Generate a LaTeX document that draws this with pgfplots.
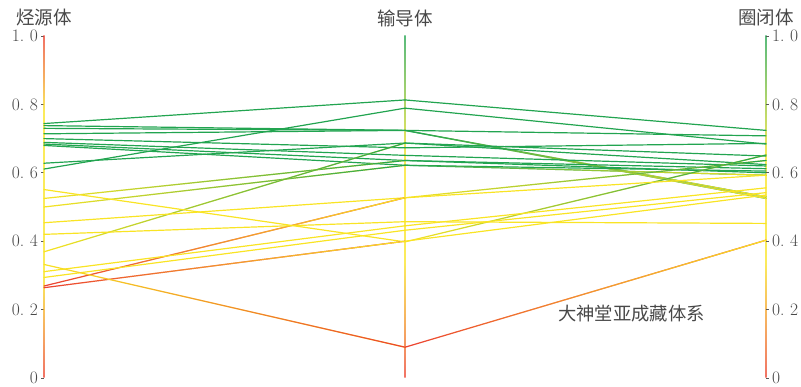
\documentclass[border=0pt]{standalone}
\usepackage{fontspec}
\usepackage{pgfplots}
\pgfplotsset{compat=1.18}
\usetikzlibrary{fadings}
\newfontfamily\cjk{Noto Sans CJK SC}

\definecolor{cR}{RGB}{236,66,50}
\definecolor{cY}{RGB}{249,228,36}
\definecolor{cG}{RGB}{34,164,80}
\definecolor{txt}{RGB}{72,72,72}

% colour ramps of the three vertical axes (value 0 at 25bp, value 1 at 75bp)
\pgfdeclareverticalshading{axisL}{100bp}{color(0bp)=(cR); color(25bp)=(cR); color(32bp)=(cR!50!cY); color(40bp)=(cY); color(64bp)=(cY); color(69bp)=(cR!50!cY); color(75bp)=(cR); color(100bp)=(cR)}
\pgfdeclareverticalshading{axisMR}{100bp}{color(0bp)=(cR); color(25bp)=(cR); color(33bp)=(cR!50!cY); color(42bp)=(cY); color(57bp)=(cY); color(66bp)=(cG!50!cY); color(75bp)=(cG); color(100bp)=(cG)}

% transparent on the left, opaque on the right: blends a segment into its end colour
\tikzfading[name=fadein, left color=transparent!100, right color=transparent!0]

\newcommand\dg{.\hspace{0.32em}}
\pgfplotsset{
  pcbase/.style={
    scale only axis, width=722bp, height=342bp,
    at={(0,0)}, anchor=south west,
    xmin=0, xmax=2, ymin=0, ymax=1,
    axis x line=none,
    y axis line style={draw=none},
    ytick={0,0.2,0.4,0.6,0.8,1},
    yticklabels={0,{0\dg 2},{0\dg 4},{0\dg 6},{0\dg 8},{1\dg 0}},
    yticklabel style={font=\fontsize{17.5bp}{17.5bp}\selectfont, text=txt, inner ysep=0pt},
    tick style={black!65, line width=0.6bp},
    major tick length=2.5bp,
    tick align=outside,
    clip=false,
  },
  seg/.style={line width=1.2bp, line cap=round},
}

% one segment between two neighbouring axes, coloured from #5 to #6
\newcommand\seg[6]{%
  \addplot[seg, draw=#5] coordinates {(#1,#2) (#3,#4)};%
  \def\ca{#5}\def\cb{#6}%
  \ifx\ca\cb\else
    \addplot[seg, draw=#6, path fading=fadein] coordinates {(#1,#2) (#3,#4)};%
  \fi}
% one sample: values on 烃源体, 输导体, 圈闭体 and the class colour at each axis
\newcommand\pline[6]{%
  \seg{0}{#1}{1}{#2}{#4}{#5}%
  \seg{1}{#2}{2}{#3}{#5}{#6}}

\begin{document}
\begin{tikzpicture}
\useasboundingbox (-44bp,-9bp) rectangle (757bp,378bp);

\begin{axis}[pcbase, axis y line*=left]

% axis lines
\shade[shading=axisL, opacity=0.75] ([xshift=-0.6bp]axis cs:0,0) rectangle ([xshift=0.6bp]axis cs:0,1);
\shade[shading=axisMR, opacity=0.75] ([xshift=-0.6bp]axis cs:1,0) rectangle ([xshift=0.6bp]axis cs:1,1);
\shade[shading=axisMR, opacity=0.75] ([xshift=-0.6bp]axis cs:2,0) rectangle ([xshift=0.6bp]axis cs:2,1);

\pline{0.744}{0.813}{0.724}{cG}{cG}{cG}
\pline{0.611}{0.789}{0.684}{cG}{cG}{cG}
\pline{0.738}{0.724}{0.708}{cG}{cG}{cG}
\pline{0.730}{0.724}{0.530}{cG}{cG}{cY}
\pline{0.714}{0.724}{0.525}{cG}{cG}{cY}
\pline{0.700}{0.673}{0.686}{cG}{cG}{cG}
\pline{0.689}{0.651}{0.620}{cG}{cG}{cG}
\pline{0.684}{0.636}{0.612}{cG}{cG}{cG}
\pline{0.680}{0.622}{0.605}{cG}{cG}{cG}
\pline{0.628}{0.687}{0.649}{cG}{cG}{cG}
\pline{0.525}{0.636}{0.600}{cY}{cG}{cG}
\pline{0.500}{0.622}{0.593}{cY}{cG}{cY}
\pline{0.369}{0.687}{0.624}{cY}{cG}{cG}
\pline{0.551}{0.398}{0.652}{cY}{cY}{cG}
\pline{0.454}{0.527}{0.636}{cY}{cY}{cG}
\pline{0.269}{0.527}{0.593}{cR}{cY}{cY}
\pline{0.420}{0.457}{0.452}{cY}{cY}{cY}
\pline{0.311}{0.445}{0.556}{cY}{cY}{cY}
\pline{0.294}{0.432}{0.542}{cY}{cY}{cY}
\pline{0.264}{0.400}{0.535}{cR}{cY}{cY}
\pline{0.332}{0.090}{0.403}{cY}{cR}{cY}

% axis names
\node[font=\cjk\fontsize{18.5bp}{19bp}\selectfont, text=txt] at ([yshift=18bp]axis cs:0,1) {烃源体};
\node[font=\cjk\fontsize{18.5bp}{19bp}\selectfont, text=txt] at ([yshift=18bp]axis cs:1,1) {输导体};
\node[font=\cjk\fontsize{18.5bp}{19bp}\selectfont, text=txt] at ([yshift=18bp]axis cs:2,1) {圈闭体};

% label of the lowest sample
\node[anchor=west, inner sep=0pt, font=\cjk\fontsize{18.3bp}{19bp}\selectfont, text=txt] at (axis cs:1.424,0.189) {大神堂亚成藏体系};
\end{axis}

\begin{axis}[pcbase, axis y line*=right]
\end{axis}
\end{tikzpicture}
\end{document}
